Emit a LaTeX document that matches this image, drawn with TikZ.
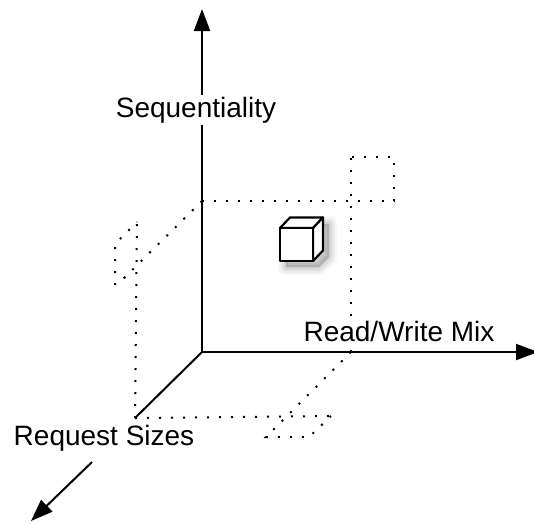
\documentclass[tikz,border=0pt]{standalone}
\usepackage{fontspec}
\setmainfont{Liberation Sans}
\usetikzlibrary{arrows.meta}
\begin{document}
\begin{tikzpicture}[x=1pt,y=-1pt,
  axis/.style={line width=2pt,-{Triangle[length=22pt,width=16pt]}},
  axisline/.style={line width=2pt},
  dots/.style={line width=2pt,dash pattern=on 2pt off 10pt},
  label/.style={anchor=base,fill=white,inner xsep=3pt,inner ysep=2pt,font=\fontsize{28}{32}\selectfont},
  face/.style={fill=white,draw=black,line width=2.2pt,line join=round}]
\useasboundingbox (0,0) rectangle (534,523);
% axis points
\coordinate (O) at (202,352);
\coordinate (Ytop) at (202,9);
\coordinate (Xtip) at (538,352);
\coordinate (Zp) at (135,418);
\coordinate (Zs) at (92,462);
\coordinate (Ztip) at (31,521);
% projection points
\coordinate (Yp) at (202,201);
\coordinate (Xp) at (351,352);
% dotted projections
\draw[dots] (Yp) -- (394,201) -- (394,157) -- (351,157);
\draw[dots] (Xp) -- (351,157);
\draw[dots] (Yp) -- (118,284) -- (115,284) -- (115,244) -- (137,222);
\draw[dots] (Zp) -- (137,222);
\draw[dots] (Zp) -- (331,416);
\draw[dots] (Xp) -- (266,437) -- (309,437) -- (331,416);
% axes
\draw[axis] (O) -- (Ytop);
\draw[axis] (O) -- (Xtip);
\draw[axisline] (O) -- (Zp);
\draw[axis] (Zs) -- (Ztip);
% labels
\node[label] (seq) at (196,117.5) {Sequentiality};
\node[label] (rw) at (399,341.5) {Read/Write Mix};
\node[label] (req) at (104,445) {Request Sizes};
% cube shadow
\foreach \w/\o in {16/0.03,12/0.04,8/0.05,4/0.06}{
  \fill[black,opacity=\o,draw=black,line width=\w pt,line join=round]
    (286,235) -- (296,224) -- (329,224) -- (329,257) -- (319,267) -- (286,267) -- cycle;
}
% cube
\draw[face] (280,228) -- (290,217.5) -- (323,217.5) -- (313,228) -- cycle;
\draw[face] (313,228) -- (323,217.5) -- (323,250.5) -- (313,261) -- cycle;
\draw[face] (280,228) rectangle (313,261);
\end{tikzpicture}
\end{document}
